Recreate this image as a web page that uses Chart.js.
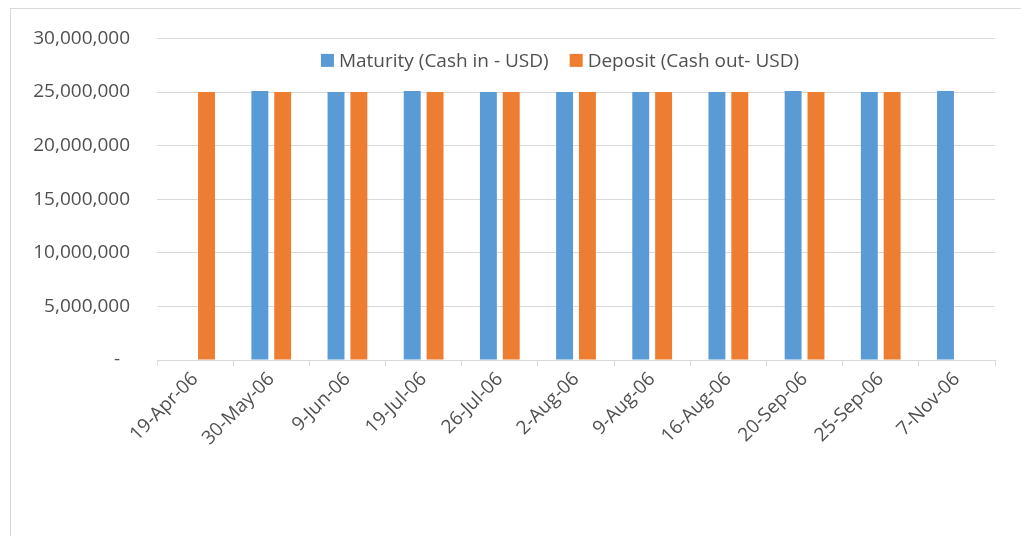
<!DOCTYPE html>
<html>
<head>
<meta charset="utf-8">
<script src="https://cdn.jsdelivr.net/npm/chart.js@4.4.1/dist/chart.umd.min.js"></script>
<style>
  html, body { margin: 0; padding: 0; background: #fff; overflow: hidden; }
  #frame { position: absolute; left: 10px; top: 8px; width: 1040px; height: 540px; border: 1px solid #d9d9d9; }
  #wrap { position: absolute; left: 0; top: 0; width: 1021px; height: 536px; }
</style>
</head>
<body>
<div id="frame"></div>
<div id="wrap"><canvas id="cashChart"></canvas></div>
<script>
// Chart data
const dates = ['19-Apr-06', '30-May-06', '9-Jun-06', '19-Jul-06', '26-Jul-06', '2-Aug-06',
               '9-Aug-06', '16-Aug-06', '20-Sep-06', '25-Sep-06', '7-Nov-06'];
const maturity = [null, 25100000, 25000000, 25100000, 25000000, 25000000,
                  25000000, 25000000, 25100000, 25000000, 25100000];
const deposit = [25000000, 25000000, 25000000, 25000000, 25000000, 25000000,
                 25000000, 25000000, 25000000, 25000000, null];
const yTicks = [0, 5000000, 10000000, 15000000, 20000000, 25000000, 30000000];

const textColor = '#505050';
const gridColor = '#d9d9d9';
const fontFamily = '"Open Sans", "Noto Sans", sans-serif';

// Excel-style legend sitting inside the plot, between the top two gridlines
const innerLegend = {
    id: 'innerLegend',
    afterDraw(chart) {
        const c = chart.ctx;
        const area = chart.chartArea;
        const sets = chart.data.datasets;
        c.save();
        c.font = '19px ' + fontFamily;
        c.textBaseline = 'middle';
        const box = 13, gap = 5, spacing = 21;
        const widths = sets.map(d => box + gap + c.measureText(d.label).width);
        const total = widths.reduce((a, b) => a + b, 0) + spacing * (sets.length - 1);
        let x = (area.left + area.right) / 2 - 16 - total / 2;
        const y = area.top + 22;
        sets.forEach((d, i) => {
            c.fillStyle = d.backgroundColor;
            c.fillRect(x, y - box / 2, box, box);
            c.fillStyle = textColor;
            c.fillText(d.label, x + box + gap, y + 1);
            x += widths[i] + spacing;
        });
        c.restore();
    }
};

const ctx = document.getElementById('cashChart').getContext('2d');
new Chart(ctx, {
    type: 'bar',
    data: {
        labels: dates,
        datasets: [{
            label: 'Maturity (Cash in - USD)',
            data: maturity,
            backgroundColor: '#5b9bd5',
            categoryPercentage: 0.6,
            barPercentage: 0.74
        }, {
            label: 'Deposit (Cash out- USD)',
            data: deposit,
            backgroundColor: '#ed7d31',
            categoryPercentage: 0.6,
            barPercentage: 0.74
        }]
    },
    options: {
        responsive: true,
        maintainAspectRatio: false,
        animation: false,
        layout: { padding: { left: 20, right: 26, top: 36, bottom: 0 } },
        plugins: {
            legend: { display: false },
            tooltip: { enabled: false }
        },
        scales: {
            x: {
                offset: true,
                grid: {
                    offset: true,
                    drawOnChartArea: false,
                    drawTicks: true,
                    tickLength: 6,
                    color: gridColor
                },
                border: { color: gridColor },
                ticks: {
                    minRotation: 45,
                    maxRotation: 45,
                    padding: 2,
                    color: textColor,
                    font: { family: fontFamily, size: 19 }
                },
                afterFit: (scale) => { scale.height = 176; }
            },
            y: {
                min: yTicks[0],
                max: yTicks[yTicks.length - 1],
                grid: { color: gridColor, drawTicks: false },
                border: { display: false },
                afterBuildTicks: (scale) => { scale.ticks = yTicks.map(v => ({ value: v })); },
                ticks: {
                    padding: 27,
                    color: textColor,
                    font: { family: fontFamily, size: 19 },
                    callback: (v) => v === 0 ? '-  ' : v.toLocaleString('en-US')
                },
                afterFit: (scale) => { scale.width = 137; }
            }
        }
    },
    plugins: [innerLegend]
});
</script>
</body>
</html>
